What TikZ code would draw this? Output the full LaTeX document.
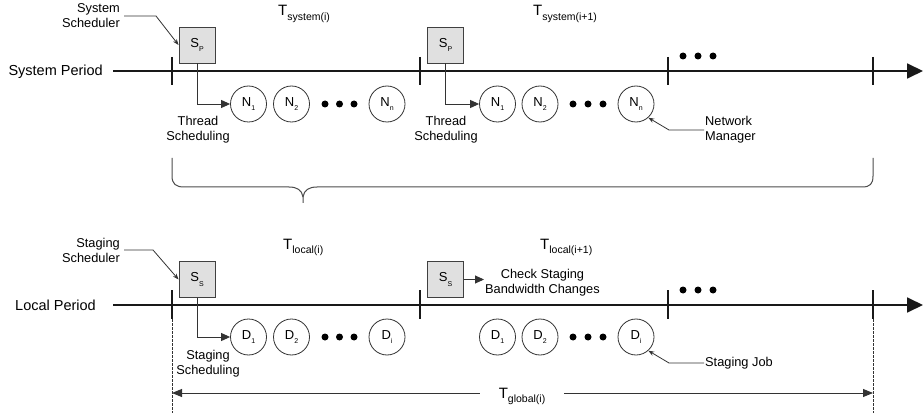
\documentclass[tikz,border=0pt]{standalone}
\usepackage{fontspec}
\setmainfont{Liberation Sans}
\usetikzlibrary{arrows.meta}

% letter with a small lowered index, used inside the boxes and circles
\newcommand\idx[2]{#1\raisebox{-0.32em}{\fontsize{7}{7}\selectfont #2}}
% period symbol T with its subscript
\newcommand\per[1]{{\fontsize{15}{15}\selectfont T}\raisebox{-4.5pt}{\fontsize{10.5}{10.5}\selectfont #1}}

\tikzset{
  axis/.style={line width=1.8pt, draw=black!90, -{Triangle[length=16pt,width=15pt]}},
  tick/.style={line width=1.6pt, draw=black!90},
  sched/.style={draw=black!75, fill=black!12, line width=0.9pt, minimum size=36pt,
    inner sep=0pt, font=\fontsize{13}{13}\selectfont},
  job/.style={circle, draw=black!80, line width=0.8pt, minimum size=36pt, inner sep=0pt,
    font=\fontsize{13}{13}\selectfont},
  dot/.style={circle, fill=black, minimum size=7pt, inner sep=0pt},
  flow/.style={draw=black!80, line width=0.9pt, -{Triangle[length=9pt,width=8pt]}},
  lead/.style={draw=black!80, line width=0.8pt, -{Stealth[length=6pt,width=4.5pt]}},
  lbl/.style={font=\fontsize{12.8}{15}\selectfont, inner sep=1pt},
  axlbl/.style={font=\fontsize{14.5}{15}\selectfont, inner sep=0pt},
  perlbl/.style={inner sep=0pt},
  brace/.style={draw=black!70, line width=1pt},
  dim/.style={draw=black!80, line width=0.9pt, -{Triangle[length=10pt,width=8pt]}},
  guide/.style={draw=black!80, line width=0.7pt, dash pattern=on 2.5pt off 1.5pt}
}

\begin{document}
\begin{tikzpicture}[x=1pt,y=-1pt]
\useasboundingbox (0,0) rectangle (923,414);

% ---------------- system period ----------------
\coordinate (sa) at (113,71);
\coordinate (sb) at (923,71);
\draw[axis] (sa) -- (sb);
\foreach \x [count=\i] in {172,420,668,873}{
  \coordinate (stt\i) at (\x,57);
  \coordinate (stb\i) at (\x,85);
  \draw[tick] (stt\i) -- (stb\i);
}
\node[axlbl, anchor=base east] (sysper) at (103,76) {System Period};

\node[perlbl, anchor=base west] (tsys1) at (278,16) {\per{system(i)}};
\node[perlbl, anchor=base west] (tsys2) at (533,16) {\per{system(i+1)}};

\node[sched] (sp1) at (197,45) {\idx{S}{P}};
\node[sched] (sp2) at (445.5,45) {\idx{S}{P}};

\node[job] (n1a) at (248.5,104) {\idx{N}{1}};
\node[job] (n2a) at (291.5,104) {\idx{N}{2}};
\node[job] (nna) at (387,104) {\idx{N}{n}};
\node[job] (n1b) at (497.5,104) {\idx{N}{1}};
\node[job] (n2b) at (540,104) {\idx{N}{2}};
\node[job] (nnb) at (636,104) {\idx{N}{n}};

\foreach \x [count=\i] in {325,339.5,354}{\node[dot] (sda\i) at (\x,104) {};}
\foreach \x [count=\i] in {573,588,603}{\node[dot] (sdb\i) at (\x,104) {};}
\foreach \x [count=\i] in {683,698,713}{\node[dot] (sdc\i) at (\x,56) {};}

\draw[flow] (sp1.south) |- (n1a.west);
\draw[flow] (sp2.south) |- (n1b.west);

\node[lbl, align=center] (thr1) at (198,130) {Thread\\Scheduling};
\node[lbl, align=center] (thr2) at (446,130) {Thread\\Scheduling};

\node[lbl, align=right, anchor=east] (sysch) at (121,16) {System\\Scheduler};
\draw[lead] (sysch.east) ++(3,0) -- ++(32,0) -- (sp1.west);

\node[lbl, align=left, anchor=west] (netmgr) at (704,130) {Network\\Manager};
\draw[lead] (netmgr.west) -- ++(-35,0) -- (nnb.-48);

% brace spanning the system periods
\draw[brace] (172,158) -- (172,176) .. controls (172,184) and (176,187) .. (184,187)
  -- (289,187) .. controls (297,187) and (302,190) .. (303,197) -- (303,203);
\draw[brace] (303,197) .. controls (304,190) and (309,187) .. (317,187)
  -- (862,187) .. controls (870,187) and (873,184) .. (873,176) -- (873,158);

% ---------------- local period ----------------
\coordinate (la) at (113,305);
\coordinate (lb) at (923,305);
\draw[axis] (la) -- (lb);
\foreach \x [count=\i] in {172,420,668,873}{
  \coordinate (ltt\i) at (\x,290);
  \coordinate (ltb\i) at (\x,319);
  \draw[tick] (ltt\i) -- (ltb\i);
}
\node[axlbl, anchor=base east] (locper) at (96,310) {Local Period};

\node[perlbl, anchor=base west] (tloc1) at (283,249) {\per{local(i)}};
\node[perlbl, anchor=base west] (tloc2) at (540,249) {\per{local(i+1)}};

\node[sched] (ss1) at (197,279.5) {\idx{S}{S}};
\node[sched] (ss2) at (445.5,279.5) {\idx{S}{S}};

\node[job] (d1a) at (248.5,337) {\idx{D}{1}};
\node[job] (d2a) at (291.5,337) {\idx{D}{2}};
\node[job] (dia) at (387,337) {\idx{D}{i}};
\node[job] (d1b) at (497.5,337) {\idx{D}{1}};
\node[job] (d2b) at (540,337) {\idx{D}{2}};
\node[job] (dib) at (636,337) {\idx{D}{i}};

\foreach \x [count=\i] in {325,339.5,354}{\node[dot] (lda\i) at (\x,337) {};}
\foreach \x [count=\i] in {573,588,603}{\node[dot] (ldb\i) at (\x,337) {};}
\foreach \x [count=\i] in {683,698,713}{\node[dot] (ldc\i) at (\x,290) {};}

\draw[flow] (ss1.south) |- (d1a.west);

\node[lbl, align=center] (stsch) at (208,364) {Staging\\Scheduling};

\node[lbl, align=center, anchor=west] (chk) at (484,283) {Check Staging\\Bandwidth Changes};
\draw[flow] (ss2.east) -- (chk.west |- ss2.east);

\node[lbl, align=right, anchor=east] (stgsch) at (121,250) {Staging\\Scheduler};
\draw[lead] (stgsch.east) ++(3,0) -- ++(29,0) -- (ss1.west);

\node[lbl, anchor=west] (sjob) at (704,363) {Staging Job};
\draw[lead] (sjob.west) -- ++(-35,0) -- (dib.-48);

% global period dimension line
\coordinate (gl) at (172,393);
\coordinate (gr) at (873,393);
\coordinate (gtl) at (172,413);
\coordinate (gtr) at (873,413);
\draw[guide] (ltb1) -- (gtl);
\draw[guide] (ltb4) -- (gtr);
\node[perlbl, inner xsep=19pt, anchor=base] (tglob) at (522,398) {\per{global(i)}};
\draw[dim] (tglob.west |- gl) -- (gl);
\draw[dim] (tglob.east |- gr) -- (gr);
\end{tikzpicture}
\end{document}
